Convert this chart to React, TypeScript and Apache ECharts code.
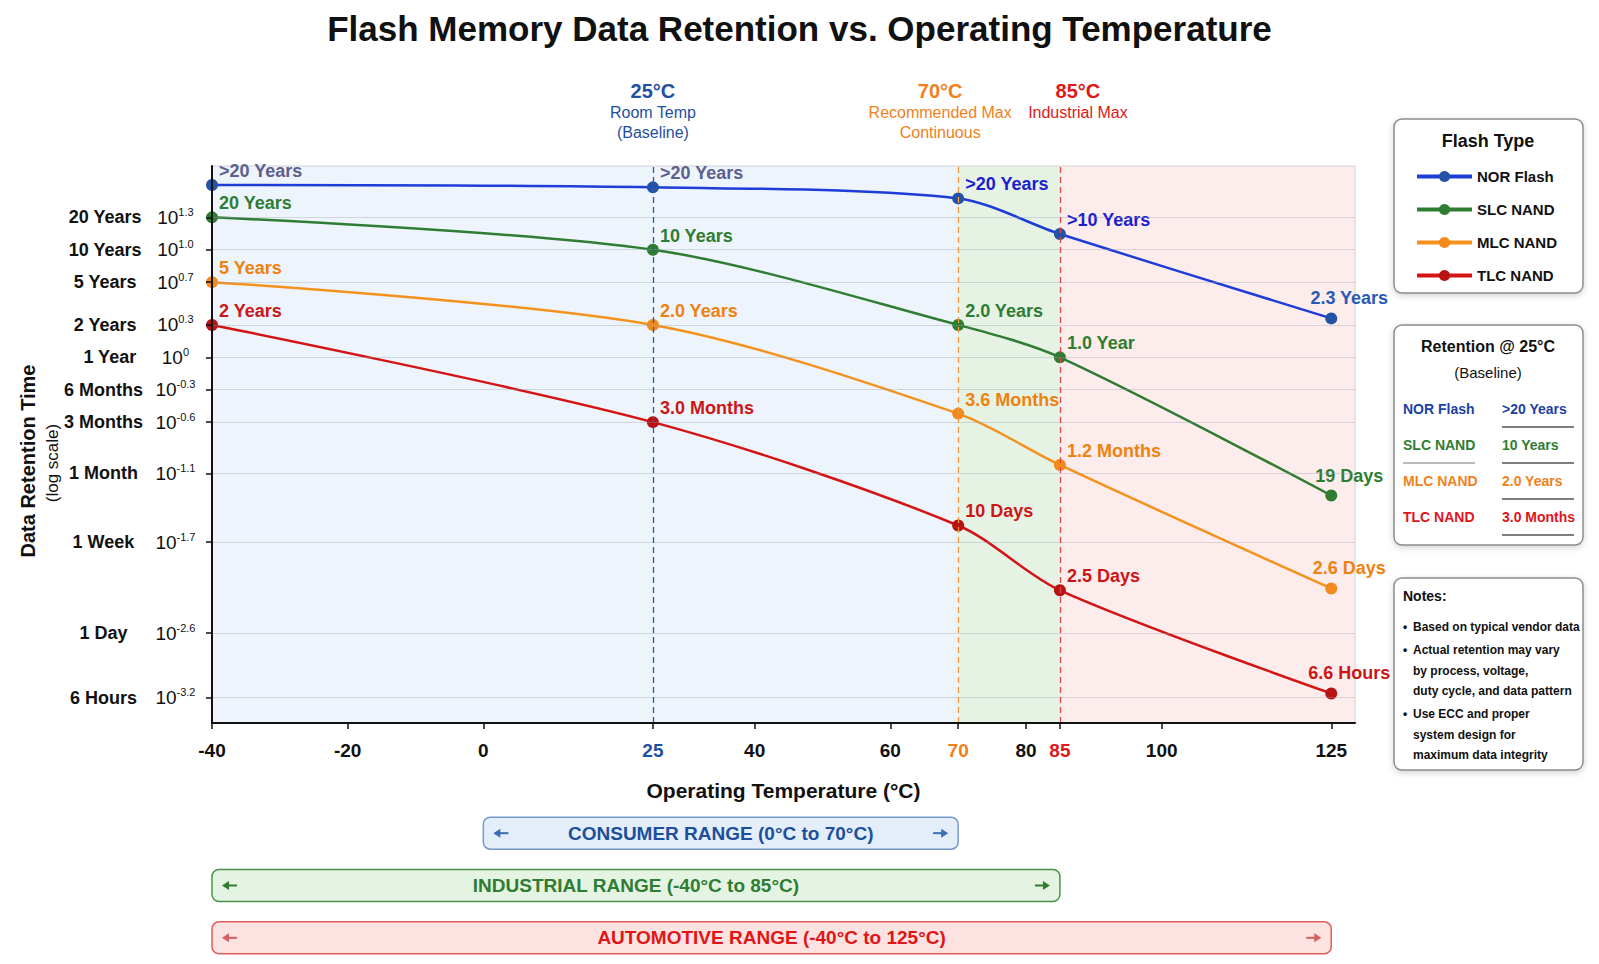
import React, { useEffect, useRef } from "react";
import * as echarts from "echarts";

// ---- data ---------------------------------------------------------------
const temperatures = [-40, 25, 70, 85, 125];

// NOR retention estimate in years; above 10 years only a lower bound is quoted
const norYears = [40, 38, 30, 14, 2.3];
const slcRetention = ["20 Years", "10 Years", "2.0 Years", "1.0 Year", "19 Days"];
const mlcRetention = ["5 Years", "2.0 Years", "3.6 Months", "1.2 Months", "2.6 Days"];
const tlcRetention = ["2 Years", "3.0 Months", "10 Days", "2.5 Days", "6.6 Hours"];

const xTicks = [-40, -20, 0, 25, 40, 60, 70, 80, 85, 100, 125];
const xMin = -40;
const xMax = 128.5;

const yTickYears = [20, 10, 5, 2, 1, 0.5, 0.25, 1 / 12, 7 / 365.25, 1 / 365.25, 6 / 8766];
const yTickNames = ["20 Years", "10 Years", "5 Years", "2 Years", "1 Year", "6 Months", "3 Months", "1 Month", "1 Week", "1 Day", "6 Hours"];
const yMinYears = 0.0004;
const yMaxYears = 60;

const markerTemps = [25, 70, 85];
const markerNotes = [["Room Temp", "(Baseline)"], ["Recommended Max", "Continuous"], ["Industrial Max", " "]];

const rangeNames = ["CONSUMER RANGE", "INDUSTRIAL RANGE", "AUTOMOTIVE RANGE"];
const rangeLow = [0, -40, -40];
const rangeHigh = [70, 85, 125];

const notes = [
  ["Based on typical vendor data"],
  ["Actual retention may vary", "by process, voltage,", "duty cycle, and data pattern"],
  ["Use ECC and proper", "system design for", "maximum data integrity"],
];

// ---- helpers ------------------------------------------------------------
const FONT = '"Liberation Sans", Arial, Helvetica, sans-serif';
const font = (size: number, weight = "normal") => `${weight} ${size}px ${FONT}`;

function toYears(label: string): number {
  const m = label.match(/([\d.]+)\s*(Year|Month|Day|Hour)/);
  if (!m) return NaN;
  const n = parseFloat(m[1]);
  switch (m[2]) {
    case "Year":
      return n;
    case "Month":
      return n / 12;
    case "Day":
      return n / 365.25;
    default:
      return n / 8766;
  }
}

function boundLabel(years: number): string {
  if (years > 20) return ">20 Years";
  if (years > 10) return ">10 Years";
  return `${years.toFixed(1)} Years`;
}

const flashTypes = [
  { name: "NOR Flash", years: norYears, labels: norYears.map(boundLabel), line: "#1e3cd8", dot: "#2453a6", text: "#1a1fcf", table: "#1c3fa6" },
  { name: "SLC NAND", years: slcRetention.map(toYears), labels: slcRetention, line: "#2e7d32", dot: "#2e7d32", text: "#2e7d32", table: "#2e7d32" },
  { name: "MLC NAND", years: mlcRetention.map(toYears), labels: mlcRetention, line: "#f5921e", dot: "#f28a1c", text: "#ee820e", table: "#f0821e" },
  { name: "TLC NAND", years: tlcRetention.map(toYears), labels: tlcRetention, line: "#d41414", dot: "#b81212", text: "#cc1616", table: "#e0141c" },
];

const markerColors = [
  { line: "#2a5aa8", text: "#1f4fa0" },
  { line: "#f29a40", text: "#f07f1c" },
  { line: "#e04848", text: "#e01818" },
];
const markerShift = [0, -18, 18];

const rangeColors = [
  { fill: "#e4eefa", stroke: "#7398c9", text: "#1d4f9a", arrow: "#3a6db5" },
  { fill: "#e5f3e2", stroke: "#479447", text: "#2e7d32", arrow: "#2e7d32" },
  { fill: "#fde2e2", stroke: "#e25c5c", text: "#e01515", arrow: "#d46060" },
];

const logMin = Math.log10(yMinYears);
const logMax = Math.log10(yMaxYears);
const yTickLogs = yTickYears.map((v) => Math.log10(v));

function xLabelColor(v: number): string {
  if (v === 25) return "#1f4fa0";
  if (v === 70) return "#f07f1c";
  if (v === 85) return "#e01818";
  return "#111";
}

// exponent text shown next to each y tick, e.g. 10^1.3
const exponentText = (v: number) => (Math.abs(v) < 0.05 ? "0" : v.toFixed(1));
// rough width of a superscript string at 11px, used to centre the 10^x column
const supWidth = (s: string) =>
  s.split("").reduce((w, ch) => w + (ch === "." ? 3.1 : ch === "-" ? 3.7 : 6.1), 0);

const yRich: any = {
  n: { width: 104, align: "center", fontSize: 18, fontWeight: "bold", color: "#111", lineHeight: 22 },
  b: { fontSize: 19, color: "#111", lineHeight: 22 },
};
yTickLogs.forEach((v, i) => {
  const pad = Math.max(0, 10 - supWidth(exponentText(v)) / 2);
  yRich[`s${i}`] = { fontSize: 11, color: "#111", lineHeight: 12, verticalAlign: "top", padding: [0, pad, 0, 0] };
});

function yLabel(value: number): string {
  const i = yTickLogs.findIndex((t) => Math.abs(t - value) < 1e-6);
  if (i < 0) return "";
  return `{n|${yTickNames[i]}}{b|10}{s${i}|${exponentText(value)}}`;
}

function buildOption(): any {
  const lastIdx = temperatures.length - 1;
  const idx25 = temperatures.indexOf(25);

  const lineSeries = flashTypes.map((ft, si) => ({
    name: ft.name,
    type: "line",
    z: 4,
    smooth: 0.3,
    symbol: "circle",
    symbolSize: 12,
    lineStyle: { color: ft.line, width: 2.5 },
    itemStyle: { color: ft.dot },
    label: {
      show: true,
      fontSize: 18,
      fontWeight: "bold",
      color: ft.text,
      formatter: (p: any) => ft.labels[p.dataIndex],
    },
    data: temperatures.map((t, i) => {
      const lab: any =
        i === lastIdx
          ? { position: "top", distance: 5, offset: [18, 0] }
          : { position: "right", distance: 4, offset: [-3, -14] };
      if (si === 0) lab.color = i < 2 ? "#5e608c" : i === lastIdx ? "#2a5ab8" : ft.text;
      return { value: [t, Math.log10(ft.years[i])], label: lab };
    }),
  }));

  const graphic: any[] = [];

  // y-axis title
  graphic.push(
    { type: "text", x: 28, y: 461, rotation: Math.PI / 2, style: { text: "Data Retention Time", font: font(20, "bold"), fill: "#111", align: "center", verticalAlign: "middle" } },
    { type: "text", x: 52, y: 463, rotation: Math.PI / 2, style: { text: "(log scale)", font: font(17), fill: "#111", align: "center", verticalAlign: "middle" } }
  );

  const boxStyle = { fill: "#fff", stroke: "#8c8c8c", lineWidth: 1.5, shadowBlur: 6, shadowColor: "rgba(0,0,0,0.18)", shadowOffsetY: 2 };

  // legend frame
  graphic.push(
    { type: "rect", shape: { x: 1394, y: 119, width: 189, height: 174, r: 8 }, style: boxStyle },
    { type: "text", x: 1488, y: 141, style: { text: "Flash Type", font: font(18, "bold"), fill: "#111", align: "center", verticalAlign: "middle" } }
  );

  // retention @ 25 °C table
  graphic.push(
    { type: "rect", shape: { x: 1394, y: 325, width: 189, height: 220, r: 8 }, style: boxStyle },
    { type: "text", x: 1488, y: 346, style: { text: "Retention @ 25°C", font: font(16, "bold"), fill: "#111", align: "center", verticalAlign: "middle" } },
    { type: "text", x: 1488, y: 372, style: { text: "(Baseline)", font: font(15), fill: "#111", align: "center", verticalAlign: "middle" } }
  );
  flashTypes.forEach((ft, i) => {
    const y = 409 + i * 36;
    graphic.push(
      { type: "text", x: 1403, y, style: { text: ft.name, font: font(14, "bold"), fill: ft.table, align: "left", verticalAlign: "middle" } },
      { type: "text", x: 1502, y, style: { text: ft.labels[idx25], font: font(14, "bold"), fill: ft.table, align: "left", verticalAlign: "middle" } },
      { type: "line", shape: { x1: 1502, y1: y + 18, x2: 1574, y2: y + 18 }, style: { stroke: "#555", lineWidth: 1.5 } }
    );
    if (i === 1) graphic.push({ type: "line", shape: { x1: 1403, y1: y + 18, x2: 1475, y2: y + 18 }, style: { stroke: "#777", lineWidth: 1.2 } });
  });

  // notes
  graphic.push(
    { type: "rect", shape: { x: 1394, y: 578, width: 189, height: 192, r: 8 }, style: boxStyle },
    { type: "text", x: 1403, y: 596, style: { text: "Notes:", font: font(14, "bold"), fill: "#111", align: "left", verticalAlign: "middle" } }
  );
  let ny = 627;
  notes.forEach((bullet, bi) => {
    if (bi > 0) ny += 23;
    bullet.forEach((line, li) => {
      if (li > 0) ny += 20.5;
      if (li === 0) graphic.push({ type: "text", x: 1403, y: ny, style: { text: "•", font: font(12, "bold"), fill: "#111", align: "left", verticalAlign: "middle" } });
      graphic.push({ type: "text", x: 1413, y: ny, style: { text: line, font: font(12, "bold"), fill: "#111", align: "left", verticalAlign: "middle" } });
    });
  });

  return {
    animation: false,
    backgroundColor: "#fff",
    textStyle: { fontFamily: FONT },
    title: {
      text: "Flash Memory Data Retention vs. Operating Temperature",
      left: "center",
      top: 6,
      textStyle: { fontSize: 35, fontWeight: "bold", color: "#111", fontFamily: FONT },
    },
    legend: {
      data: flashTypes.map((f) => f.name),
      orient: "vertical",
      left: 1415,
      top: 169,
      padding: 0,
      itemGap: 18,
      itemWidth: 55,
      itemHeight: 14,
      lineStyle: { width: 4 },
      textStyle: { fontSize: 15, fontWeight: "bold", color: "#111" },
    },
    grid: [
      { left: 212, right: 244, top: 166, bottom: 241, show: true, z: 3, borderColor: "#d2d2d2", borderWidth: 1, backgroundColor: "transparent" },
      { left: 212, right: 244, top: 807, height: 157 },
    ],
    xAxis: [
      {
        type: "value",
        gridIndex: 0,
        min: xMin,
        max: xMax,
        z: 5,
        axisLine: { show: true, onZero: false, lineStyle: { color: "#111", width: 2 } },
        axisTick: { show: true, length: 6, customValues: xTicks, lineStyle: { color: "#111", width: 1.5 } },
        axisLabel: {
          customValues: xTicks,
          margin: 18,
          fontSize: 19,
          fontWeight: "bold",
          color: (v: any) => xLabelColor(Number(v)),
        },
        splitLine: { show: false },
        name: "Operating Temperature (°C)",
        nameLocation: "middle",
        nameGap: 57,
        nameTextStyle: { fontSize: 21, fontWeight: "bold", color: "#111" },
      },
      { type: "value", gridIndex: 1, min: xMin, max: xMax, show: false },
    ],
    yAxis: [
      {
        type: "value",
        gridIndex: 0,
        min: logMin,
        max: logMax,
        z: 5,
        axisLine: { show: true, onZero: false, lineStyle: { color: "#111", width: 2 } },
        axisTick: { show: true, length: 6, customValues: yTickLogs, lineStyle: { color: "#111", width: 1.5 } },
        axisLabel: {
          customValues: yTickLogs,
          margin: 16,
          formatter: (v: number) => yLabel(v),
          rich: yRich,
        },
        splitLine: { show: false },
      },
      { type: "category", gridIndex: 1, data: rangeNames, inverse: true, show: false },
    ],
    series: [
      {
        name: "bands",
        type: "line",
        data: [],
        z: 1,
        silent: true,
        markArea: {
          silent: true,
          data: [
            [{ xAxis: -40, itemStyle: { color: "#edf4fc" } }, { xAxis: 70 }],
            [{ xAxis: 70, itemStyle: { color: "#e6f3e4" } }, { xAxis: 85 }],
            [{ xAxis: 85, itemStyle: { color: "#fdecec" } }, { xAxis: xMax }],
          ],
        },
      },
      {
        name: "gridlines",
        type: "line",
        data: [],
        z: 2,
        silent: true,
        markLine: {
          silent: true,
          symbol: "none",
          label: { show: false },
          lineStyle: { color: "rgba(150,160,175,0.35)", type: "solid", width: 1 },
          data: yTickLogs.map((v) => ({ yAxis: v })),
        },
      },
      {
        name: "markers",
        type: "line",
        data: [],
        z: 3,
        silent: true,
        markLine: {
          silent: true,
          symbol: "none",
          data: markerTemps.map((t, i) => {
            const sh = markerShift[i];
            return {
              xAxis: t,
              lineStyle: { color: markerColors[i].line, type: [6, 4], width: 1.3 },
              label: {
                show: true,
                position: "end",
                distance: 24,
                padding: sh < 0 ? [0, -2 * sh, 0, 0] : [0, 0, 0, 2 * sh],
                formatter: `{t|${t}°C}\n{s|${markerNotes[i][0]}}\n{s|${markerNotes[i][1]}}`,
                rich: {
                  t: { fontSize: 20, fontWeight: "bold", lineHeight: 23, color: markerColors[i].text },
                  s: { fontSize: 16, lineHeight: 20, color: markerColors[i].text },
                },
              },
            };
          }),
        },
      },
      ...lineSeries,
      {
        name: "ranges",
        type: "custom",
        xAxisIndex: 1,
        yAxisIndex: 1,
        silent: true,
        data: rangeNames.map((_, i) => [rangeLow[i], rangeHigh[i], i]),
        renderItem: (params: any, api: any) => {
          const i = params.dataIndex;
          const c = rangeColors[i];
          const lo = api.coord([api.value(0), api.value(2)]);
          const hi = api.coord([api.value(1), api.value(2)]);
          const y = lo[1];
          const x0 = lo[0];
          const x1 = hi[0];
          const h = 32;
          const arrow = (tip: number, dir: number) => [
            { type: "line", shape: { x1: tip + dir * 4, y1: y, x2: tip + dir * 15, y2: y }, style: { stroke: c.arrow, lineWidth: 2 } },
            { type: "polygon", shape: { points: [[tip, y], [tip + dir * 7, y - 4.5], [tip + dir * 7, y + 4.5]] }, style: { fill: c.arrow } },
          ];
          return {
            type: "group",
            children: [
              { type: "rect", shape: { x: x0, y: y - h / 2, width: x1 - x0, height: h, r: 7 }, style: { fill: c.fill, stroke: c.stroke, lineWidth: 1.5 } },
              {
                type: "text",
                style: {
                  text: `${rangeNames[i]} (${rangeLow[i]}°C to ${rangeHigh[i]}°C)`,
                  x: (x0 + x1) / 2,
                  y,
                  align: "center",
                  verticalAlign: "middle",
                  fill: c.text,
                  font: font(19, "bold"),
                },
              },
              ...arrow(x0 + 10, 1),
              ...arrow(x1 - 10, -1),
            ],
          };
        },
      },
    ],
    graphic,
  };
}

export default function App() {
  const ref = useRef<HTMLDivElement>(null);
  useEffect(() => {
    document.body.style.margin = "0";
    document.body.style.overflow = "hidden";
    const chart = echarts.init(ref.current as HTMLDivElement, null, { renderer: "svg" });
    chart.setOption(buildOption());
    return () => chart.dispose();
  }, []);
  return <div ref={ref} style={{ width: 1599, height: 964 }} />;
}
